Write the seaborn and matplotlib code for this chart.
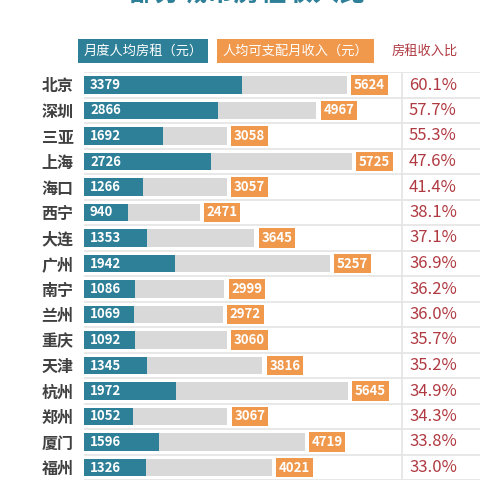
import numpy as np
import pandas as pd
import seaborn as sns
import matplotlib.pyplot as plt

cities = ["北京", "深圳", "三亚", "上海", "海口", "西宁", "大连", "广州",
          "南宁", "兰州", "重庆", "天津", "杭州", "郑州", "厦门", "福州"]
rent = [3379, 2866, 1692, 2726, 1266, 940, 1353, 1942,
        1086, 1069, 1092, 1345, 1972, 1052, 1596, 1326]
income = [5624, 4967, 3058, 5725, 3057, 2471, 3645, 5257,
          2999, 2972, 3060, 3816, 5645, 3067, 4719, 4021]
ratio = [60.1, 57.7, 55.3, 47.6, 41.4, 38.1, 37.1, 36.9,
         36.2, 36.0, 35.7, 35.2, 34.9, 34.3, 33.8, 33.0]
title = "部分城市房租收入比"
legend_rent = "月度人均房租（元）"
legend_income = "人均可支配月收入（元）"
legend_ratio = "房租收入比"

TEAL = "#2e7f98"
ORANGE = "#f0984c"
GRAY = "#d9d9d9"
LINE = "#e4e4e4"
RED = "#b03a42"
DARK = "#404040"

sns.set_theme(style="white")
plt.rcParams['font.family'] = ['Noto Sans CJK SC', 'DejaVu Sans']

df = pd.DataFrame({"city": cities, "rent": rent, "income": income, "ratio": ratio})

W = 480
fig = plt.figure(figsize=(4.8, 4.8), dpi=100)
fig.patch.set_facecolor("white")
px_per_unit = 0.04676
x0_px = 84
top_px = 72.25
ax = fig.add_axes([x0_px / W, 0, (W - x0_px) / W, (W - top_px) / W])

sns.barplot(data=df, x="income", y="city", color=GRAY, saturation=1,
            width=0.7, ax=ax, orient="h", zorder=2, linewidth=0, edgecolor="none")
sns.barplot(data=df, x="rent", y="city", color=TEAL, saturation=1,
            width=0.7, ax=ax, orient="h", zorder=3, linewidth=0, edgecolor="none")

xmax = (W - x0_px) / px_per_unit
ax.set_xlim(0, xmax)
ax.set_ylim(-0.5 + (W - top_px) / 25.5, -0.5)
for s in ax.spines.values():
    s.set_visible(False)
ax.set_xlabel("")
ax.set_ylabel("")
ax.set_xticks([])
ax.tick_params(axis="y", length=0, pad=7.5)
for lab in ax.get_yticklabels():
    lab.set_fontsize(11.5)
    lab.set_fontweight("bold")
    lab.set_color(DARK)

for i in range(-1, len(cities)):
    ax.axhline(i + 0.5, color=LINE, lw=1.2, zorder=1)
vline_x = (402 - x0_px) / px_per_unit
ax.axvline(vline_x, color=LINE, lw=1.2, zorder=1)

for i, (r, inc, rt) in enumerate(zip(rent, income, ratio)):
    ax.text(6 / px_per_unit, i, f"{r}", color="white", fontsize=9.5,
            fontweight="bold", ha="left", va="center", zorder=4)
    ax.text(inc + 7 / px_per_unit, i, f"{inc}", color="white", fontsize=9.5,
            fontweight="bold", ha="left", va="center", zorder=4,
            bbox=dict(boxstyle="square,pad=0.2", facecolor=ORANGE, edgecolor="none"))
    ax.text((409 - x0_px) / px_per_unit, i, f"{rt:.1f}%", color=RED, fontsize=12,
            fontweight="medium", ha="left", va="center", zorder=4)

# legend
ly = 1 - 51 / W
fig.text(143 / W, ly, legend_rent, color="white", fontsize=9.5, ha="center", va="center",
         bbox=dict(boxstyle="square,pad=0.4", facecolor=TEAL, edgecolor="none"))
fig.text(295.5 / W, ly, legend_income, color="white", fontsize=9.5, ha="center", va="center",
         bbox=dict(boxstyle="square,pad=0.4", facecolor=ORANGE, edgecolor="none"))
fig.text(425 / W, ly, legend_ratio, color=RED, fontsize=9.5, ha="center", va="center")

# title (cut off at top like the reference)
fig.text(248 / W, 1 + 6 / W, title, color=TEAL, fontsize=19, fontweight="bold",
         ha="center", va="center")

fig.savefig("out.png", dpi=100, facecolor="white")
